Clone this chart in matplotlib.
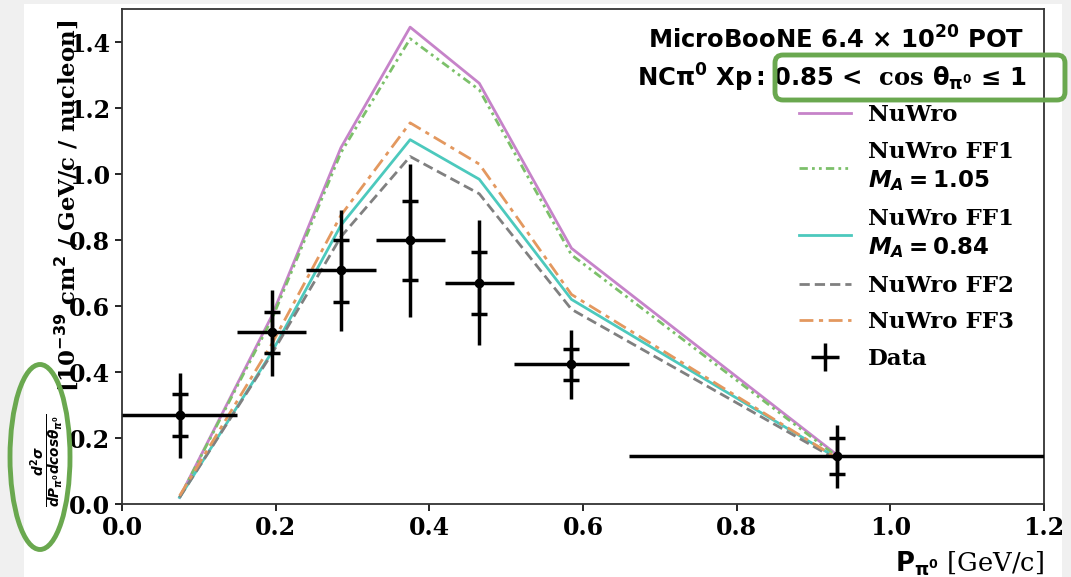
import matplotlib
matplotlib.use('Agg')
import matplotlib.pyplot as plt
import numpy as np
from matplotlib.lines import Line2D
from matplotlib.patches import Ellipse, FancyBboxPatch, Rectangle

# Fuentes: texto en serif negrita, matematicas en sans negrita
plt.rcParams['font.family'] = ['DejaVu Serif']
plt.rcParams['font.weight'] = 'bold'
plt.rcParams['mathtext.fontset'] = 'custom'
plt.rcParams['mathtext.rm'] = 'DejaVu Sans:bold'
plt.rcParams['mathtext.it'] = 'DejaVu Sans:bold:italic'
plt.rcParams['mathtext.bf'] = 'DejaVu Sans:bold'
plt.rcParams['mathtext.sf'] = 'DejaVu Serif:bold'

# Bins en momento del pi0 [GeV/c]
bin_edges = [0.0, 0.15, 0.24, 0.33, 0.42, 0.51, 0.66, 1.2]
x_centers = [0.075, 0.195, 0.285, 0.375, 0.465, 0.585, 0.93]

# Datos (valor central, error total y error estadistico como limites)
data_y = [0.27, 0.52, 0.71, 0.80, 0.67, 0.425, 0.145]
tot_hi = [0.396, 0.65, 0.89, 1.03, 0.86, 0.528, 0.24]
tot_lo = [0.140, 0.389, 0.524, 0.566, 0.481, 0.318, 0.047]
stat_hi = [0.333, 0.582, 0.80, 0.918, 0.765, 0.471, 0.20]
stat_lo = [0.206, 0.457, 0.613, 0.679, 0.576, 0.376, 0.092]

# Predicciones de NuWro
nuwro = [0.02, 0.57, 1.08, 1.445, 1.275, 0.775, 0.15]
nuwro_ff1_105 = [0.02, 0.56, 1.065, 1.41, 1.255, 0.755, 0.145]
nuwro_ff1_084 = [0.02, 0.46, 0.845, 1.104, 0.984, 0.62, 0.14]
nuwro_ff2 = [0.02, 0.455, 0.81, 1.053, 0.94, 0.59, 0.135]
nuwro_ff3 = [0.025, 0.485, 0.875, 1.155, 1.03, 0.635, 0.14]

W, H = 1071, 577
fig = plt.figure(figsize=(W / 100, H / 100), dpi=100)
fig.patch.set_facecolor('#f0f0f0')
fig.add_artist(Rectangle((24 / W, 0), (1062 - 24) / W, 1 - 4 / H,
                         transform=fig.transFigure, facecolor='white',
                         edgecolor='none', zorder=-1))

ax = fig.add_axes([122 / W, 1 - 504 / H, (1044 - 122) / W, (504 - 9) / H])

ax.plot(x_centers, nuwro, color='#c683c9', lw=2, label='NuWro')
ax.plot(x_centers, nuwro_ff1_105, color='#7cc06a', lw=2,
        ls=(0, (3, 1.5, 1, 1.5, 1, 1.5)), label='NuWro FF1\n$M_A = 1.05$')
ax.plot(x_centers, nuwro_ff1_084, color='#4cc9bd', lw=2,
        label='NuWro FF1\n$M_A = 0.84$')
ax.plot(x_centers, nuwro_ff2, color='#808080', lw=2, ls=(0, (3.7, 1.8)),
        label='NuWro FF2')
ax.plot(x_centers, nuwro_ff3, color='#e3985f', lw=2,
        ls=(0, (5, 2, 1.5, 2)), label='NuWro FF3')

xc = np.array(x_centers)
edges = np.array(bin_edges)
y = np.array(data_y)
xerr = [xc - edges[:-1], edges[1:] - xc]
yerr_tot = [y - np.array(tot_lo), np.array(tot_hi) - y]
yerr_stat = [y - np.array(stat_lo), np.array(stat_hi) - y]

ax.errorbar(xc, y, xerr=xerr, yerr=yerr_tot, fmt='o', color='k', ms=6,
            elinewidth=2.5, capsize=0, zorder=5)
ax.errorbar(xc, y, yerr=yerr_stat, fmt='none', ecolor='k', elinewidth=2.5,
            capsize=6, capthick=2.5, zorder=5)

ax.set_xlim(0, 1.2)
ax.set_ylim(0, 1.5)
ax.set_xticks([0.0, 0.2, 0.4, 0.6, 0.8, 1.0, 1.2])
ax.set_yticks([0.0, 0.2, 0.4, 0.6, 0.8, 1.0, 1.2, 1.4])
ax.tick_params(labelsize=17, length=5, width=1.2)
for s in ax.spines.values():
    s.set_linewidth(1.3)
    s.set_color('#333333')

ax.set_xlabel(r'$\mathrm{P_{\pi^0}}$ [GeV/c]', fontsize=18.5, loc='right',
              labelpad=7)

# Etiqueta del eje y en dos partes
fig.text(66 / W, 1 - 206 / H, r'[10$^{-39}$ cm$^2$ / GeV/c / nucleon]',
         rotation=90, fontsize=16.5, ha='center', va='center')
fig.text(47 / W, 1 - 460 / H,
         r'$\frac{d^2\sigma}{dP_{\pi^0}dcos\theta_{\pi^0}}$',
         rotation=90, fontsize=14, ha='center', va='center')

ax.text(0.979, 0.937, r'MicroBooNE 6.4 $\times$ 10$^{20}$ POT',
        transform=ax.transAxes, ha='right', va='center', fontsize=17.5,
        family='DejaVu Sans', weight='bold')
ax.text(0.981, 0.861,
        r'NCπ$^0$ Xp$\,$: 0.85 <  $\mathsf{cos}$ θ$_{\mathrm{\pi^0}}$ ≤ 1',
        transform=ax.transAxes, ha='right', va='center', fontsize=17.5,
        family='DejaVu Sans', weight='bold')

handles, labels = ax.get_legend_handles_labels()
handles.append(Line2D([], [], color='k', marker='+', ms=20, mew=2.5,
                      ls='none'))
labels.append('Data')
leg = ax.legend(handles, labels, loc='upper left',
                bbox_to_anchor=(0.7245, 0.826), frameon=False, fontsize=16.5,
                handlelength=2.25, handletextpad=0.75, labelspacing=0.63,
                borderaxespad=0)
for t in leg.get_texts():
    t.set_linespacing(1.3)

# Anotaciones verdes
ov = fig.add_axes([0, 0, 1, 1], zorder=10)
ov.set_xlim(0, W)
ov.set_ylim(H, 0)
ov.axis('off')
ov.patch.set_alpha(0)
ov.add_patch(Ellipse((40, 457), 60, 185, fill=False, edgecolor='#6aa84f',
                     lw=3.5))
ov.add_patch(FancyBboxPatch((775, 55), 290, 45,
                            boxstyle='round,pad=0,rounding_size=8',
                            fill=False, edgecolor='#6aa84f', lw=3.5))

plt.savefig('out.png', dpi=100, facecolor=fig.get_facecolor())
